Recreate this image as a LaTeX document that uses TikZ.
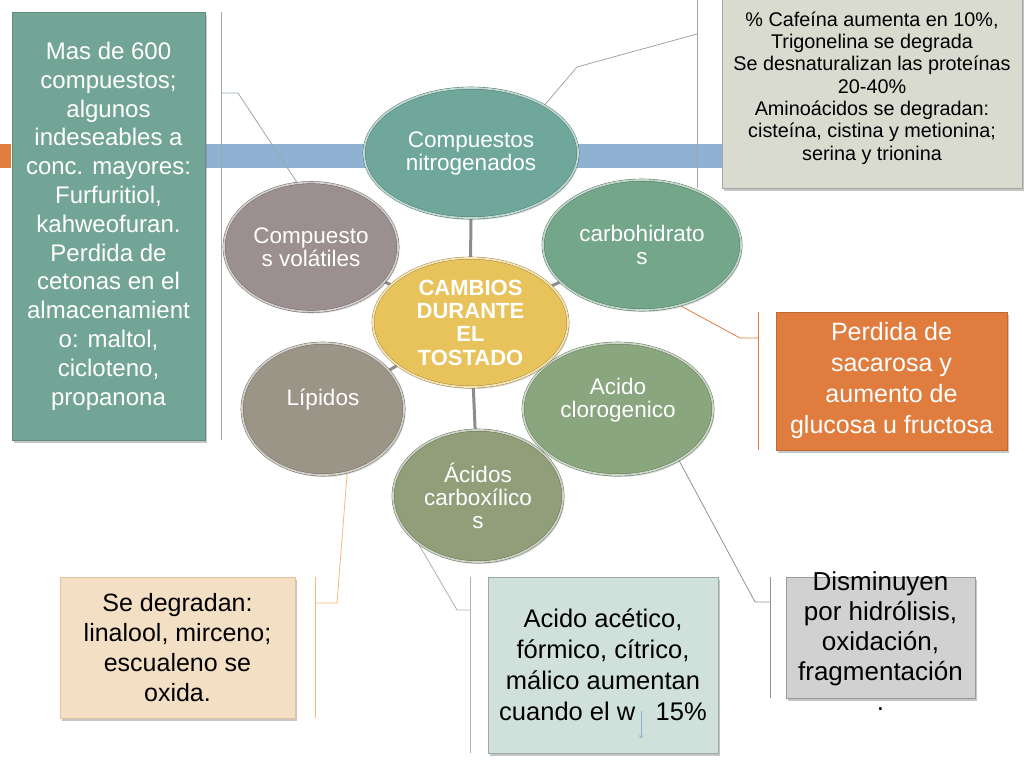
\documentclass[tikz,border=0pt]{standalone}
\usepackage{fontspec}
\setmainfont{Liberation Sans}
\usetikzlibrary{shapes.geometric,shadows,backgrounds}
\definecolor{tealbox}{HTML}{73A597}
\definecolor{nitro}{HTML}{6FA89B}
\definecolor{carbo}{HTML}{74A68A}
\definecolor{cloro}{HTML}{89A67F}
\definecolor{carbox}{HTML}{919E7A}
\definecolor{lipid}{HTML}{9B9588}
\definecolor{volat}{HTML}{9B8F8F}
\definecolor{cambio}{HTML}{E8C25B}
\definecolor{barblue}{HTML}{8FB2D3}
\definecolor{notegray}{HTML}{D9DBCF}
\definecolor{orangebox}{HTML}{E07D3E}
\definecolor{peach}{HTML}{F3DFC3}
\definecolor{mint}{HTML}{CFE1DA}
\definecolor{greybox}{HTML}{D2D1D1}
\begin{document}
\begin{tikzpicture}[x=1pt,y=-1pt,
        bubble/.style={ellipse,inner sep=0pt,align=center,text=white,fill=#1,draw=#1!65!black,
          double=#1!45!white,double distance=1.8pt,line width=0.4pt,
          font=\fontsize{22.5}{23}\selectfont,drop shadow={shadow xshift=1.5pt,shadow yshift=-2pt,opacity=0.3}},
        note/.style={rectangle,inner sep=0pt,align=center,line width=0.4pt,
          drop shadow={shadow xshift=2pt,shadow yshift=-3pt,opacity=0.45}},
        spoke/.style={draw=black!45,line width=3pt},
        link/.style={draw=#1,line width=0.8pt}]
        \clip (0,0) rectangle (1024,768);
        \useasboundingbox (0,0) rectangle (1024,768);
        \node[bubble=nitro,minimum width=214,minimum height=130] (nitro) at (471,153) {Compuestos\\nitrogenados};
        \node[bubble=carbo,minimum width=198,minimum height=130] (carbo) at (642,245) {carbohidrato\\s};
        \node[bubble=volat,minimum width=174,minimum height=129] (volat) at (311,247) {Compuesto\\s volátiles};
        \node[bubble=cloro,minimum width=190,minimum height=132] (cloro) at (618,409) {Acido\\clorogenico\\\mbox{}};
        \node[bubble=lipid,minimum width=162,minimum height=132] (lipid) at (323,409) {Lípidos\\\mbox{}};
        \node[bubble=carbox,minimum width=170,minimum height=132] (carbox) at (478,496) {Ácidos\\carboxílico\\s};
        \node[bubble=cambio,minimum width=195,minimum height=129,font=\bfseries\fontsize{22}{23.3}\selectfont] (cambios) at (470.5,322.5) {CAMBIOS\\DURANTE\\EL\\TOSTADO};
        \node[note,fill=tealbox,draw=tealbox!85!black,text=white,minimum width=193,minimum height=428,font=\fontsize{24}{28.8}\selectfont] (aromas) at (108.5,226) {Mas de 600\\compuestos;\\algunos\\indeseables a\\conc. mayores:\\Furfuritiol,\\kahweofuran.\\Perdida de\\cetonas en el\\almacenamient\\o: maltol,\\cicloteno,\\propanona};
        \node[note,fill=notegray,draw=black!35,minimum width=300,minimum height=200,font=\fontsize{19.8}{22.3}\selectfont] (proteinas) at (872,88) {\% Cafeína aumenta en 10\%,\\Trigonelina se degrada\\Se desnaturalizan las proteínas\\20-40\%\\Aminoácidos se degradan:\\cisteína, cistina y metionina;\\serina y trionina};
        \node[note,fill=orangebox,draw=orangebox!85!black,text=white,minimum width=231,minimum height=138,font=\fontsize{25}{31}\selectfont] (azucar) at (891.5,381) {Perdida de\\sacarosa y\\aumento de\\glucosa u fructosa};
        \node[note,fill=peach,draw=peach!70!brown,minimum width=235,minimum height=141,font=\fontsize{25}{30}\selectfont] (grasas) at (177.5,647.5) {Se degradan:\\linalool, mirceno;\\escualeno se\\oxida.};
        \node[note,fill=mint,draw=mint!75!black,minimum width=230,minimum height=176,font=\fontsize{25.5}{31}\selectfont] (acidos) at (603,665) {Acido acético,\\fórmico, cítrico,\\málico aumentan\\cuando el w\hspace{0.8em}15\%};
        \node[note,fill=greybox,draw=black!40,minimum width=189,minimum height=121,
          label={[align=center,inner sep=0pt,yshift=-4pt,font=\fontsize{26}{30}\selectfont]center:Disminuyen\\por hidrólisis,\\oxidación,\\fragmentación\\.}] (hidrolisis) at (880.5,637.5) {};
        \draw[->,barblue,line width=0.9pt] (641,711) -- (641,738);
        \coordinate (k1) at (221,93);
        \coordinate (k2) at (697,34);
        \coordinate (k3) at (758,338);
        \coordinate (k4) at (770,602);
        \coordinate (k5) at (470,610);
        \coordinate (k6) at (315,603);
        \begin{scope}[on background layer]
        \fill[barblue] (205,144) rectangle (724,168);
        \fill[orangebox] (0,144) rectangle (11,168);
        \draw[link=black!30!tealbox!60] (k1 |- aromas.north) -- (k1 |- aromas.south);
        \draw[link=black!30!tealbox!60] (k1) -- ++(17,0) -- (volat.102);
        \draw[link=black!25!notegray] (k2 |- proteinas.north) -- (k2 |- proteinas.south);
        \draw[link=black!25!notegray] (k2) -- ++(-120,33) -- (nitro.33);
        \draw[link=orangebox] (k3 |- azucar.north) -- (k3 |- azucar.south);
        \draw[link=orangebox] (k3) -- ++(-18,0) -- (carbo.-58);
        \draw[link=black!30!greybox] (k4 |- hidrolisis.north) -- (k4 |- hidrolisis.south);
        \draw[link=black!30!greybox] (k4) -- ++(-15,0) -- (cloro.-40);
        \draw[link=black!20!mint] (k5 |- acidos.north) -- (k5 |- acidos.south);
        \draw[link=black!20!mint] (k5) -- ++(-13,0) -- (carbox.218);
        \draw[link=peach!60!orange] (k6 |- grasas.north) -- (k6 |- grasas.south);
        \draw[link=peach!60!orange] (k6) -- ++(22,0) -- (lipid.-69);
        \foreach \n in {nitro,carbo,cloro,carbox,lipid,volat}
          \draw[spoke] (cambios) -- (\n);
        \end{scope}
        \end{tikzpicture}
\end{document}
